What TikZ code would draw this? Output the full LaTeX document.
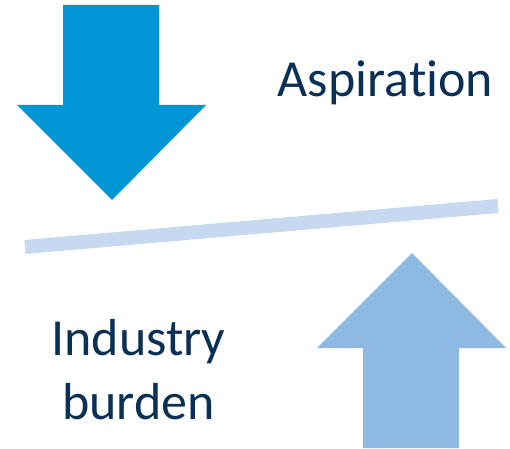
\documentclass[tikz,border=0pt]{standalone}
\usepackage{fontspec}
\setmainfont[Ligatures=NoCommon]{Carlito}
\usetikzlibrary{positioning}
\definecolor{downblue}{RGB}{0,150,214}
\definecolor{upblue}{RGB}{141,185,227}
\definecolor{barblue}{RGB}{198,217,240}
\definecolor{textnavy}{RGB}{10,48,85}

\begin{document}
\begin{tikzpicture}[x=0.75pt, y=-0.75pt,
    label/.style={text=textnavy, font=\fontsize{39}{48}\selectfont, inner sep=0pt, align=center}]
    \useasboundingbox (0,0) rectangle (510,449);

    % arrow pushing down
    \fill[downblue] (63,5) -- (159,5) -- (159,105) -- (206,105) -- (112,200)
        -- (17,105) -- (63,105) -- cycle;
    % arrow pushing up
    \fill[upblue] (363,448) -- (459,448) -- (459,348) -- (506,348) -- (412,253)
        -- (317,348) -- (363,348) -- cycle;
    % the balance bar
    \coordinate (barL) at (25,247);
    \coordinate (barR) at (498,206);
    \draw[barblue, line width=10.5pt] (barL) -- (barR);

    \node[label, anchor=base] (aspiration) at (385.5,97) {Aspiration};
    \node[label, anchor=base] (burden) at (138.5,419) {Industry\\burden};
\end{tikzpicture}
\end{document}
